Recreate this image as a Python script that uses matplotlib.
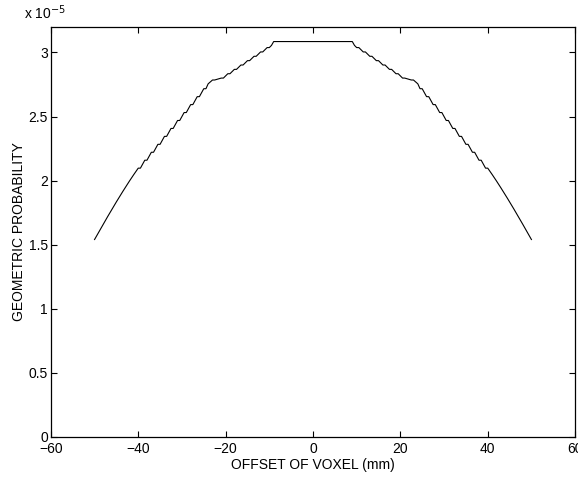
import matplotlib
matplotlib.use("Agg")
import matplotlib.pyplot as plt

plt.rcParams['font.family'] = ['Liberation Sans', 'DejaVu Sans']

# offset of voxel (mm), left side -50 .. -9 in 0.5 mm steps
left_x = [-50 + 0.5 * i for i in range(83)]
left_y = [1.540, 1.570, 1.600, 1.630, 1.660, 1.690, 1.719, 1.748, 1.777, 1.806,
          1.834, 1.862, 1.890, 1.917, 1.944, 1.971, 1.997, 2.023, 2.048, 2.073,
          2.097, 2.097, 2.128, 2.159, 2.159, 2.190, 2.221, 2.221, 2.252, 2.283,
          2.283, 2.314, 2.345, 2.345, 2.376, 2.407, 2.407, 2.438, 2.469, 2.469,
          2.500, 2.531, 2.531, 2.562, 2.593, 2.593, 2.624, 2.655, 2.655, 2.686,
          2.717, 2.717, 2.755, 2.770, 2.785, 2.785, 2.790, 2.795, 2.800, 2.800,
          2.817, 2.834, 2.834, 2.851, 2.868, 2.868, 2.885, 2.902, 2.902, 2.919,
          2.936, 2.936, 2.953, 2.970, 2.970, 2.987, 3.004, 3.004, 3.021, 3.038,
          3.038, 3.055, 3.085]
# flat top
plateau_x = [-9.0, 9.0]
plateau_y = [3.085, 3.085]
# right side 9 .. 50
right_x = [9 + 0.5 * i for i in range(83)]
right_y = [3.085, 3.055, 3.038, 3.038, 3.021, 3.004, 3.004, 2.987, 2.970, 2.970,
           2.953, 2.936, 2.936, 2.919, 2.902, 2.902, 2.885, 2.868, 2.868, 2.851,
           2.834, 2.834, 2.817, 2.800, 2.800, 2.795, 2.790, 2.785, 2.785, 2.770,
           2.755, 2.717, 2.717, 2.686, 2.655, 2.655, 2.624, 2.593, 2.593, 2.562,
           2.531, 2.531, 2.500, 2.469, 2.469, 2.438, 2.407, 2.407, 2.376, 2.345,
           2.345, 2.314, 2.283, 2.283, 2.252, 2.221, 2.221, 2.190, 2.159, 2.159,
           2.128, 2.097, 2.097, 2.073, 2.048, 2.023, 1.997, 1.971, 1.944, 1.917,
           1.890, 1.862, 1.834, 1.806, 1.777, 1.748, 1.719, 1.690, 1.660, 1.630,
           1.600, 1.570, 1.540]

x_ticks = [-60, -40, -20, 0, 20, 40, 60]
x_tick_labels = ['\u221260', '\u221240', '\u221220', '0', '20', '40', '60']
y_ticks = [0, 0.5, 1, 1.5, 2, 2.5, 3]
y_tick_labels = ['0', '0.5', '1', '1.5', '2', '2.5', '3']
scale = 1e-5

xs = left_x + plateau_x[1:] + right_x[1:]
ys = [v * scale for v in left_y + plateau_y[1:] + right_y[1:]]

fig = plt.figure(figsize=(5.78, 4.79), dpi=100)
ax = fig.add_axes([0.088, 0.088, 0.907, 0.856])
ax.plot(xs, ys, color='black', linewidth=0.8)

ax.set_xlim(-60, 60)
ax.set_ylim(0, 3.2e-5)
ax.set_xticks(x_ticks)
ax.set_xticklabels(x_tick_labels)
ax.set_yticks([v * scale for v in y_ticks])
ax.set_yticklabels(y_tick_labels)
ax.tick_params(direction='in', length=4, width=0.8, top=True, right=True,
               labelsize=10, colors='black')
ax.tick_params(axis='x', pad=3.5)
ax.tick_params(axis='y', pad=2)
for sp in ax.spines.values():
    sp.set_linewidth(0.9)
ax.set_xlabel('OFFSET OF VOXEL (mm)', fontsize=10, labelpad=1.5)
ax.set_ylabel('GEOMETRIC PROBABILITY', fontsize=10, labelpad=2)
ax.text(-0.052, 1.012, r'x 10$^{-5}$', transform=ax.transAxes, fontsize=10,
        ha='left', va='bottom')

fig.savefig('out.png', dpi=100)
